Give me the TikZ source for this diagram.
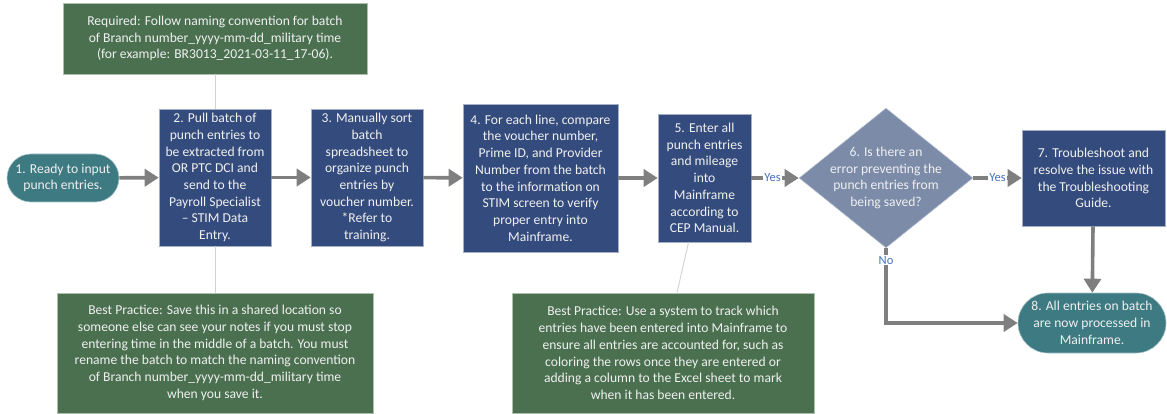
\documentclass[tikz,border=0pt]{standalone}
\usepackage{fontspec}
\setmainfont{Carlito}
\usepackage{tikz}
\usetikzlibrary{shapes.geometric, arrows.meta, positioning, calc}
\definecolor{stepblue}{HTML}{344B7D}
\definecolor{notegreen}{HTML}{4A7050}
\definecolor{endteal}{HTML}{3E7A82}
\definecolor{decgray}{HTML}{7B8BA8}
\definecolor{flowgray}{HTML}{7F7F7F}
\definecolor{labelblue}{HTML}{4472C4}

\begin{document}
\begin{tikzpicture}[x=1pt, y=-1pt,
    every node/.style={font=\fontsize{13.6}{16.7}\selectfont, text=white!94!black, align=center, inner sep=0pt},
    stepbox/.style={rectangle, fill=stepblue, draw=stepblue!45!white, line width=0.6pt},
    notebox/.style={rectangle, fill=notegreen, draw=notegreen!45!white, line width=0.6pt},
    endbox/.style={rectangle, rounded corners=24pt, fill=endteal, draw=endteal!45!white, line width=0.6pt},
    flow/.style={draw=flowgray, line width=3.6pt, -{Triangle[length=14pt, width=17pt]}},
    noteline/.style={draw=black!18, line width=0.9pt},
    yesno/.style={text=labelblue, fill=white, inner sep=1pt, font=\fontsize{12.5}{14}\selectfont}]
  \useasboundingbox (0,0) rectangle (1167,414);
  % Steps
  \node[endbox, minimum width=112pt, minimum height=48pt] (s1) at (63,178) {1. Ready to input\\punch entries.};
  \node[stepbox, minimum width=112pt, minimum height=137pt] (s2) at (215,177.5) {2. Pull batch of\\punch entries to\\be extracted from\\OR PTC DCI and\\send to the\\Payroll Specialist\\– STIM Data\\Entry.};
  \node[stepbox, minimum width=112pt, minimum height=137pt] (s3) at (367,177.5) {3. Manually sort\\batch\\spreadsheet to\\organize punch\\entries by\\voucher number.\\*Refer to\\training.};
  \node[stepbox, minimum width=155pt, minimum height=148pt] (s4) at (540.5,178) {4. For each line, compare\\the voucher number,\\Prime ID, and Provider\\Number from the batch\\to the information on\\STIM screen to verify\\proper entry into\\Mainframe.};
  \node[stepbox, minimum width=93pt, minimum height=128pt] (s5) at (704.5,178) {5. Enter all\\punch entries\\and mileage\\into\\Mainframe\\according to\\CEP Manual.};
  \node[diamond, fill=decgray, draw=decgray!45!white, line width=0.6pt, minimum width=174pt, minimum height=140pt] (s6) at (886,178) {};
  \node (s6text) at (s6) {6. Is there an\\error preventing the\\punch entries from\\being saved?};
  \node[stepbox, minimum width=143pt, minimum height=96pt] (s7) at (1093.5,178) {7. Troubleshoot and\\resolve the issue with\\the Troubleshooting\\Guide.};
  \node[endbox, rounded corners=30pt, minimum width=148pt, minimum height=60pt] (s8) at (1092,323) {8. All entries on batch\\are now processed in\\Mainframe.};

  % Notes
  \node[notebox, minimum width=304pt, minimum height=71pt] (req) at (215,38.5) {Required: Follow naming convention for batch\\of Branch number\_yyyy-mm-dd\_military time\\(for example: BR3013\_2021-03-11\_17-06).};
  \node[notebox, minimum width=316pt, minimum height=120pt] (bp1) at (215,353) {Best Practice: Save this in a shared location so\\someone else can see your notes if you must stop\\entering time in the middle of a batch. You must\\rename the batch to match the naming convention\\of Branch number\_yyyy-mm-dd\_military time\\when you save it.};
  \node[notebox, minimum width=302pt, minimum height=120pt] (bp2) at (663,353) {Best Practice: Use a system to track which\\entries have been entered into Mainframe to\\ensure all entries are accounted for, such as\\coloring the rows once they are entered or\\adding a column to the Excel sheet to mark\\when it has been entered.};

  \draw[noteline] (req.south) -- (s2.north);
  \draw[noteline] (s2.south) -- (bp1.north);
  \draw[noteline] ([xshift=-16pt]s5.south) -- ([xshift=14pt]bp2.north);

  % Flow
  \draw[flow] (s1) -- (s2);
  \draw[flow] (s2) -- (s3);
  \draw[flow] (s3) -- (s4);
  \draw[flow] (s4) -- (s5);
  \draw[flow] (s5) -- node[yesno, pos=0.45] {Yes} (s6);
  \draw[flow] (s6) -- node[yesno, pos=0.5] {Yes} (s7);
  \draw[flow] (s7) -- (s8);
  \draw[flow] (s6.south) |- node[yesno, pos=0.08] {No} (s8.west);
\end{tikzpicture}
\end{document}
